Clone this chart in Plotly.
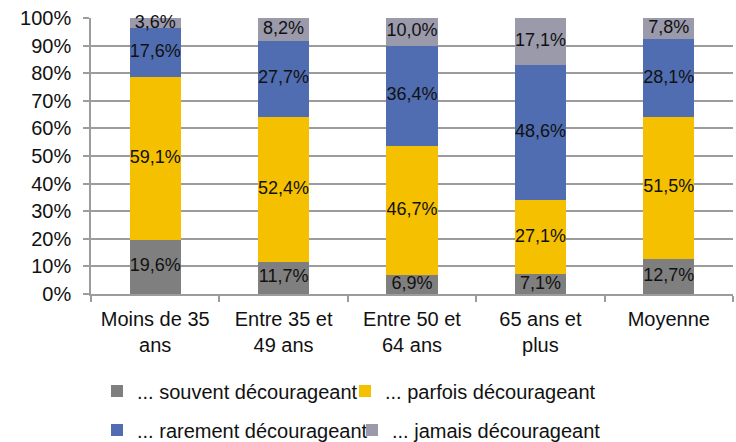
import plotly.graph_objects as go

# Age groups (x categories)
categories = ["Moins de 35<br>ans", "Entre 35 et<br>49 ans", "Entre 50 et<br>64 ans",
              "65 ans et<br>plus", "Moyenne"]

# Share of respondents (%) per answer, stacked bottom to top
souvent = [19.6, 11.7, 6.9, 7.1, 12.7]
parfois = [59.1, 52.4, 46.7, 27.1, 51.5]
rarement = [17.6, 27.7, 36.4, 48.6, 28.1]
jamais = [3.6, 8.2, 10.0, 17.1, 7.8]

series = [
    ("... souvent décourageant", souvent, "#7f7f7f", "legend"),
    ("... parfois décourageant", parfois, "#f4c000", "legend2"),
    ("... rarement décourageant", rarement, "#4f6db0", "legend3"),
    ("... jamais décourageant", jamais, "#9a9aab", "legend4"),
]

FONT = "Liberation Sans, Arial, sans-serif"
GRID = "#9c9c9c"

fig = go.Figure()
base = [0.0] * len(categories)
label_x, label_y, label_txt = [], [], []
for name, vals, color, leg in series:
    fig.add_trace(go.Bar(
        x=categories, y=vals, name=name, legend=leg,
        marker=dict(color=color, line=dict(width=0)),
    ))
    # value labels centred in each stacked segment
    for i, v in enumerate(vals):
        label_x.append(categories[i])
        label_y.append(base[i] + v / 2)
        label_txt.append(f"{v:.1f}%".replace(".", ","))
        base[i] += v

fig.add_trace(go.Scatter(
    x=label_x, y=label_y, text=label_txt, mode="text",
    textposition="middle center",
    textfont=dict(size=18, family=FONT, color="#111111"),
    showlegend=False, hoverinfo="skip", cliponaxis=False,
))

legend_style = dict(orientation="h", xref="container", yref="container",
                    xanchor="left", yanchor="middle",
                    font=dict(size=20, family=FONT, color="#111111"),
                    bgcolor="rgba(0,0,0,0)", borderwidth=0)

fig.update_layout(
    width=736, height=442,
    margin=dict(l=91, r=3, t=18, b=148),
    barmode="stack", bargap=0.6,
    separators=",.",
    plot_bgcolor="white", paper_bgcolor="white",
    font=dict(family=FONT, size=20, color="#111111"),
    showlegend=True,
    legend=dict(x=97 / 736, y=1 - 391 / 442, **legend_style),
    legend2=dict(x=345 / 736, y=1 - 391 / 442, **legend_style),
    legend3=dict(x=97 / 736, y=1 - 430 / 442, **legend_style),
    legend4=dict(x=352 / 736, y=1 - 430 / 442, **legend_style),
    xaxis=dict(
        showline=True, linecolor=GRID, linewidth=1.5,
        ticks="outside", tickson="boundaries", ticklen=6, tickcolor=GRID,
        tickwidth=1.5, ticklabelstandoff=6,
        showgrid=False, tickfont=dict(size=20, family=FONT, color="#111111"),
    ),
    yaxis=dict(
        range=[0, 100], dtick=10, ticksuffix="%",
        showline=True, linecolor=GRID, linewidth=1.5,
        ticks="outside", ticklen=6, tickcolor=GRID, tickwidth=1.5,
        showgrid=True, gridcolor=GRID, gridwidth=1.5,
        zeroline=False,
        tickfont=dict(size=20, family=FONT, color="#111111"),
        ticklabelstandoff=8,
    ),
)

fig.write_html("out.html")
